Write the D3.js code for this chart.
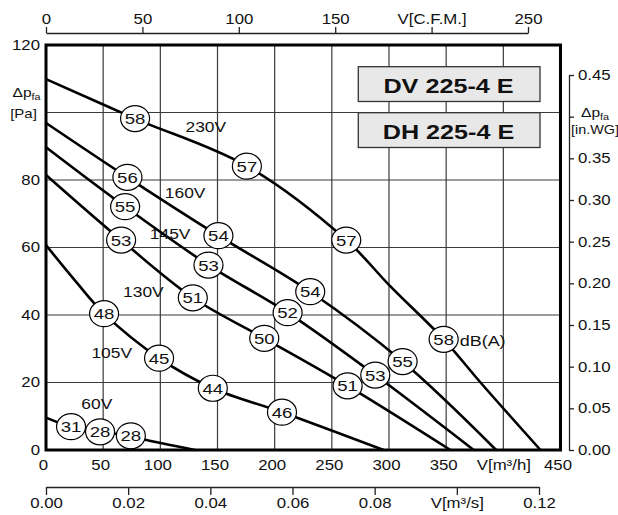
<!DOCTYPE html>
<html><head><meta charset="utf-8">
<script src="https://cdn.jsdelivr.net/npm/d3@7"></script>
<style>
body{margin:0;background:#fff}
svg{display:block;font-family:"Liberation Sans",Arial,Helvetica,sans-serif}
</style>
</head><body>
<svg id="c" width="618" height="515"></svg>
<script>
// ---------- data ----------
const flowTicks = [0,50,100,150,200,250,300,350,400,450];
const flowTickLabels = ["0","50","100","150","200","250","300","350","V[m³/h]","450"];
const pTicks = [0,20,40,60,80,100,120];
const pTickLabels = ["0","20","40","60","80","","120"];
const cfmTicks = [0,50,100,150,200,250];
const cfmTickLabels = ["0","50","100","150","V[C.F.M.]","250"];
const m3sTicks = [0,0.02,0.04,0.06,0.08,0.10,0.12];
const m3sTickLabels = ["0.00","0.02","0.04","0.06","0.08","V[m³/s]","0.12"];
const wgTicks = [0,0.05,0.10,0.15,0.20,0.25,0.30,0.35,0.40,0.45];
const wgTickLabels = ["0.00","0.05","0.10","0.15","0.20","0.25","0.30","0.35","","0.45"];

// curves: [flow m³/h, pressure Pa]
const curve230 = [[0,109.9],[77.9,98.2],[175.7,84.1],[262.6,62.2],[300.6,48.7],[347.8,32.8],[380.8,19.7],[432.5,0]];
const curve160 = [[0,96.9],[71.2,80.8],[150.8,63.5],[231.1,46.9],[311.9,26.2],[393.7,0]];
const curve145 = [[0,89.7],[69.2,72.1],[142.1,54.8],[211.3,40.7],[288.0,22.2],[374.1,0]];
const curve130 = [[0,81.5],[65.7,62.2],[128.4,45.1],[190.9,33.1],[263.8,19.0],[353.7,0]];
const curve105 = [[0,60.7],[26.9,49.6],[50.8,40.4],[98.9,27.2],[145.9,18.3],[206.4,11.2],[295.3,0]];
const curve60  = [[0,9.6],[21.9,6.9],[47.3,5.4],[74.2,4.2],[85.0,3.2],[130.4,0]];

// sound levels dB(A): [flow, pressure, value]
const dB230 = [[77.9,98.2,58],[175.7,84.1,57],[262.6,62.2,57],[347.8,32.8,58]];
const dB160 = [[71.2,80.8,56],[150.8,63.5,54],[231.1,46.9,54],[311.9,26.2,55]];
const dB145 = [[69.2,72.1,55],[142.1,54.8,53],[211.3,40.7,52],[288.0,22.2,53]];
const dB130 = [[65.7,62.2,53],[128.4,45.1,51],[190.9,33.1,50],[263.8,19.0,51]];
const dB105 = [[50.8,40.4,48],[98.9,27.2,45],[145.9,18.3,44],[206.4,11.2,46]];
const dB60  = [[21.9,6.9,31],[47.3,5.4,28],[74.2,4.2,28]];

const voltLabels = [["230V",139.8,95.8],["160V",121.7,76.1],["145V",108.6,64.0],["130V",85.2,46.7],["105V",57.5,28.8],["60V",44.4,13.6]];
const unitLabel = ["dB(A)",361.8,32.4];
const models = ["DV 225-4 E","DH 225-4 E"];

// ---------- drawing ----------
const SX = 1.2; // horizontal text stretch of the original
const svg = d3.select("#c");
const x = d3.scaleLinear().domain([0,450]).range([46,560.5]);
const y = d3.scaleLinear().domain([0,120]).range([450,45]);
const xCfm = d3.scaleLinear().domain([0,250]).range([46,528]);
const xM3s = d3.scaleLinear().domain([0,0.12]).range([46,539]);
const yWg = d3.scaleLinear().domain([0,0.45]).range([450,75]);

function stext(g, px, py, str, size, anchor, weight){
  return g.append("text")
    .attr("transform",`translate(${px},${py}) scale(${SX},1)`)
    .attr("text-anchor",anchor||"middle")
    .attr("font-size",size)
    .attr("font-weight",weight||"normal")
    .attr("fill","#111")
    .text(str);
}

// grid
const grid = svg.append("g").attr("stroke","#3a3a3a").attr("stroke-width",1.2);
grid.selectAll("line.v").data(flowTicks.filter(d=>d>0&&d<450)).join("line").attr("class","v")
  .attr("x1",d=>x(d)).attr("x2",d=>x(d)).attr("y1",y(0)).attr("y2",y(120));
grid.selectAll("line.h").data(pTicks.filter(d=>d>0&&d<120)).join("line").attr("class","h")
  .attr("x1",x(0)).attr("x2",x(450)).attr("y1",d=>y(d)).attr("y2",d=>y(d));

// model boxes
const boxY = [66.7,112.7];
models.forEach((m,i)=>{
  svg.append("rect").attr("x",358.3).attr("y",boxY[i]).attr("width",181.7).attr("height",34.8)
    .attr("fill","#e8e8e8").attr("stroke","#333").attr("stroke-width",1.3);
  stext(svg,448.5,boxY[i]+26,m,21,"middle","bold");
});

// curves
const line = d3.line().x(d=>x(d[0])).y(d=>y(d[1])).curve(d3.curveCatmullRom.alpha(0.5));
const curves = [curve230,curve160,curve145,curve130,curve105,curve60];
svg.append("g").selectAll("path").data(curves).join("path")
  .attr("d",line).attr("fill","none").attr("stroke","#000").attr("stroke-width",2.6)
  .attr("stroke-linejoin","round");

// voltage labels
const vl = svg.append("g");
voltLabels.forEach(v=>stext(vl,x(v[1]),y(v[2])+5,v[0],14.5));

// dB circles
const marks = [].concat(dB230,dB160,dB145,dB130,dB105,dB60);
const mg = svg.append("g");
marks.forEach(m=>{
  const cx=x(m[0]), cy=y(m[1]);
  mg.append("ellipse").attr("cx",cx).attr("cy",cy).attr("rx",14.5).attr("ry",13)
    .attr("fill","#fff").attr("stroke","#000").attr("stroke-width",1.2);
  stext(mg,cx,cy+5.5,String(m[2]),15.5);
});
stext(svg,x(unitLabel[1]),y(unitLabel[2])+5.5,unitLabel[0],15,"start");

// axes
function styleAxis(g, size){
  g.attr("font-family",null).attr("font-size",null);
  g.select(".domain").attr("stroke","#222").attr("stroke-width",1.3);
  g.selectAll(".tick line").attr("stroke","#222").attr("stroke-width",1.3);
  g.selectAll(".tick text").attr("font-size",size).attr("fill","#111").each(function(){
    const t=d3.select(this); const xv=+t.attr("x")||0;
    t.attr("x",xv/SX).attr("transform",`scale(${SX},1)`);
  });
}
const gl = svg.append("g").attr("transform",`translate(${x(0)},0)`)
  .call(d3.axisLeft(y).tickValues(pTicks).tickFormat((d,i)=>pTickLabels[i]).tickSize(0).tickPadding(6));
gl.select(".domain").remove(); styleAxis(gl,14);

const gb = svg.append("g").attr("transform",`translate(0,${y(0)})`)
  .call(d3.axisBottom(x).tickValues(flowTicks).tickFormat((d,i)=>flowTickLabels[i]).tickSize(0).tickPadding(10));
gb.select(".domain").remove(); styleAxis(gb,14);
gb.selectAll(".tick text").attr("dx",(d,i)=>flowTickLabels[i].startsWith("V")?0:-2.5);

const gt = svg.append("g").attr("transform","translate(0,33)")
  .call(d3.axisTop(xCfm).tickValues(cfmTicks).tickFormat((d,i)=>cfmTickLabels[i]).tickSize(6).tickPadding(3).tickSizeOuter(0));
styleAxis(gt,14);

const gs = svg.append("g").attr("transform","translate(0,487)")
  .call(d3.axisBottom(xM3s).tickValues(m3sTicks).tickFormat((d,i)=>m3sTickLabels[i]).tickSize(8).tickPadding(3).tickSizeOuter(0));
styleAxis(gs,14);

const gr = svg.append("g").attr("transform","translate(569,0)")
  .call(d3.axisRight(yWg).tickValues(wgTicks).tickFormat((d,i)=>wgTickLabels[i]).tickSize(5).tickPadding(4).tickSizeOuter(0));
styleAxis(gr,14);

// axis titles
function dpTitle(px,py){
  const t = svg.append("text").attr("transform",`translate(${px},${py}) scale(${SX},1)`).attr("fill","#111");
  t.append("tspan").attr("font-size",13).text("Δp");
  t.append("tspan").attr("font-size",9).attr("dy",3).text("fa");
}
dpTitle(12.5,97);
stext(svg,23.5,117.5,"[Pa]",12.5);
dpTitle(581,116.5);
stext(svg,595,134,"[in.WG]",12);

// frame
svg.append("rect").attr("x",x(0)).attr("y",y(120)).attr("width",x(450)-x(0)).attr("height",y(0)-y(120))
  .attr("fill","none").attr("stroke","#000").attr("stroke-width",3);
</script>
</body></html>
